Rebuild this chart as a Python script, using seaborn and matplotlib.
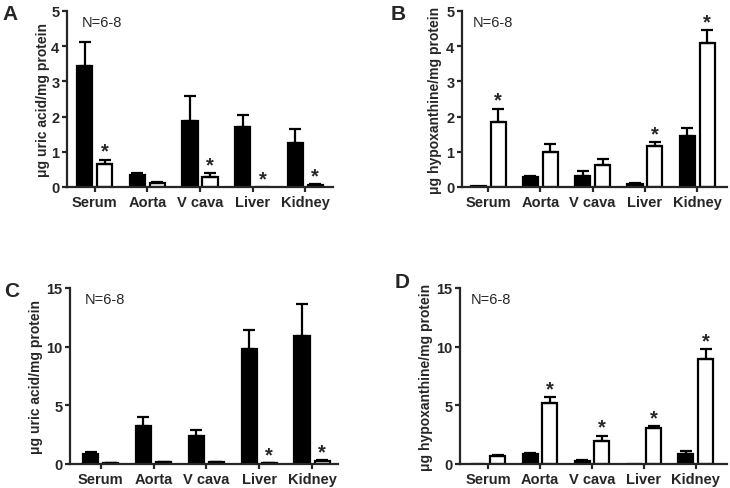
import numpy as np
import pandas as pd
import seaborn as sns
import matplotlib.pyplot as plt

sns.set_style('ticks')
plt.rcParams['font.family'] = ['Liberation Sans', 'DejaVu Sans']

# categories and groups
tissues = ['Serum', 'Aorta', 'V cava', 'Liver', 'Kidney']
groups = ['Group 1', 'Group 2']  # black bars, white bars

# panel A - uric acid (upper scale)
a_black = [3.45, 0.34, 1.88, 1.71, 1.25]
a_black_err = [0.68, 0.05, 0.71, 0.34, 0.40]
a_white = [0.65, 0.12, 0.28, 0.0, 0.07]
a_white_err = [0.13, 0.03, 0.11, 0.0, 0.01]
a_stars = [1, 0, 1, 1, 1]

# panel B - hypoxanthine (upper scale)
b_black = [0.02, 0.29, 0.32, 0.08, 1.45]
b_black_err = [0.0, 0.03, 0.14, 0.02, 0.24]
b_white = [1.85, 1.0, 0.63, 1.17, 4.1]
b_white_err = [0.38, 0.21, 0.16, 0.10, 0.35]
b_stars = [1, 0, 0, 1, 1]

# panel C - uric acid (lower scale)
c_black = [0.85, 3.27, 2.41, 9.8, 10.9]
c_black_err = [0.15, 0.71, 0.5, 1.65, 2.74]
c_white = [0.08, 0.15, 0.15, 0.05, 0.25]
c_white_err = [0.01, 0.02, 0.02, 0.01, 0.05]
c_stars = [0, 0, 0, 1, 1]

# panel D - hypoxanthine (lower scale)
d_black = [0.0, 0.85, 0.25, 0.0, 0.85]
d_black_err = [0.0, 0.1, 0.05, 0.0, 0.25]
d_white = [0.65, 5.17, 1.99, 3.07, 8.95]
d_white_err = [0.1, 0.51, 0.42, 0.15, 0.85]
d_stars = [0, 1, 1, 1, 1]

W, H = 730, 489
fig = plt.figure(figsize=(W / 100, H / 100), dpi=100)


def px_axes(left, right, top, bottom):
    # axes box from pixel edges
    return fig.add_axes([left / W, 1 - bottom / H, (right - left) / W, (bottom - top) / H])


def draw_panel(ax, black, black_err, white, white_err, stars, ymax, yticks,
               ylabel, xlim, label_x, n_x):
    df = pd.DataFrame({
        'tissue': tissues * 2,
        'group': [groups[0]] * len(tissues) + [groups[1]] * len(tissues),
        'value': black + white,
    })
    sns.barplot(data=df, x='tissue', y='value', hue='group',
                palette=['black', 'white'], saturation=1,
                edgecolor='black', linewidth=1.6,
                width=0.76, gap=0.24, errorbar=None, legend=False, ax=ax)

    # upward-only error bars
    for cont, errs in zip(ax.containers, [black_err, white_err]):
        for bar, e in zip(cont, errs):
            if e <= 0:
                continue
            x = bar.get_x() + bar.get_width() / 2
            ax.errorbar(x, bar.get_height(), yerr=[[0], [e]], fmt='none',
                        ecolor='black', elinewidth=1.6, capsize=4,
                        capthick=1.6, clip_on=False, zorder=1)

    # significance stars above the white bars
    for bar, e, s in zip(ax.containers[1], white_err, stars):
        if s:
            x = bar.get_x() + bar.get_width() / 2
            ax.annotate('*', (x, bar.get_height() + e), xytext=(0, 6),
                        textcoords='offset points', ha='center', va='center',
                        fontsize=14.5, fontweight='bold', annotation_clip=False)

    ax.set_ylim(0, ymax)
    ax.set_yticks(yticks)
    ax.set_xlim(*xlim)
    ax.set_xlabel('')
    ax.set_ylabel(ylabel, fontsize=10, fontweight='bold')
    ax.yaxis.set_label_coords(label_x, 0.5)
    ax.text(n_x, 0.94, 'N=6-8', transform=ax.transAxes, fontsize=10.5,
            ha='left', va='center')
    ax.tick_params(axis='both', width=1.6, length=3.5, direction='out',
                   labelsize=10.5, pad=2)
    for t in ax.get_xticklabels() + ax.get_yticklabels():
        t.set_fontweight('bold')
    for sp in ['left', 'bottom']:
        ax.spines[sp].set_linewidth(1.6)
    sns.despine(ax=ax)


ax_a = px_axes(67, 333, 12, 188)
ax_b = px_axes(462, 727, 12, 188)
ax_c = px_axes(70, 338, 289, 465)
ax_d = px_axes(460, 727, 289, 465)

draw_panel(ax_a, a_black, a_black_err, a_white, a_white_err, a_stars, 5,
           [0, 1, 2, 3, 4, 5], 'μg uric acid/mg protein', (-0.53, 4.53), -0.064, 0.056)
draw_panel(ax_b, b_black, b_black_err, b_white, b_white_err, b_stars, 5,
           [0, 1, 2, 3, 4, 5], 'μg hypoxanthine/mg protein', (-0.5, 4.57), -0.074, 0.04)
draw_panel(ax_c, c_black, c_black_err, c_white, c_white_err, c_stars, 15,
           [0, 5, 10, 15], 'μg uric acid/mg protein', (-0.58, 4.49), -0.1, 0.056)
draw_panel(ax_d, d_black, d_black_err, d_white, d_white_err, d_stars, 15,
           [0, 5, 10, 15], 'μg hypoxanthine/mg protein', (-0.54, 4.6), -0.1, 0.04)

# panel letters
for letter, (x, y) in zip('ABCD', [(10, 14), (398, 14), (12, 292), (402, 283)]):
    fig.text(x / W, 1 - y / H, letter, fontsize=15, fontweight='bold',
             ha='center', va='center')

fig.savefig('out.png', dpi=100)
